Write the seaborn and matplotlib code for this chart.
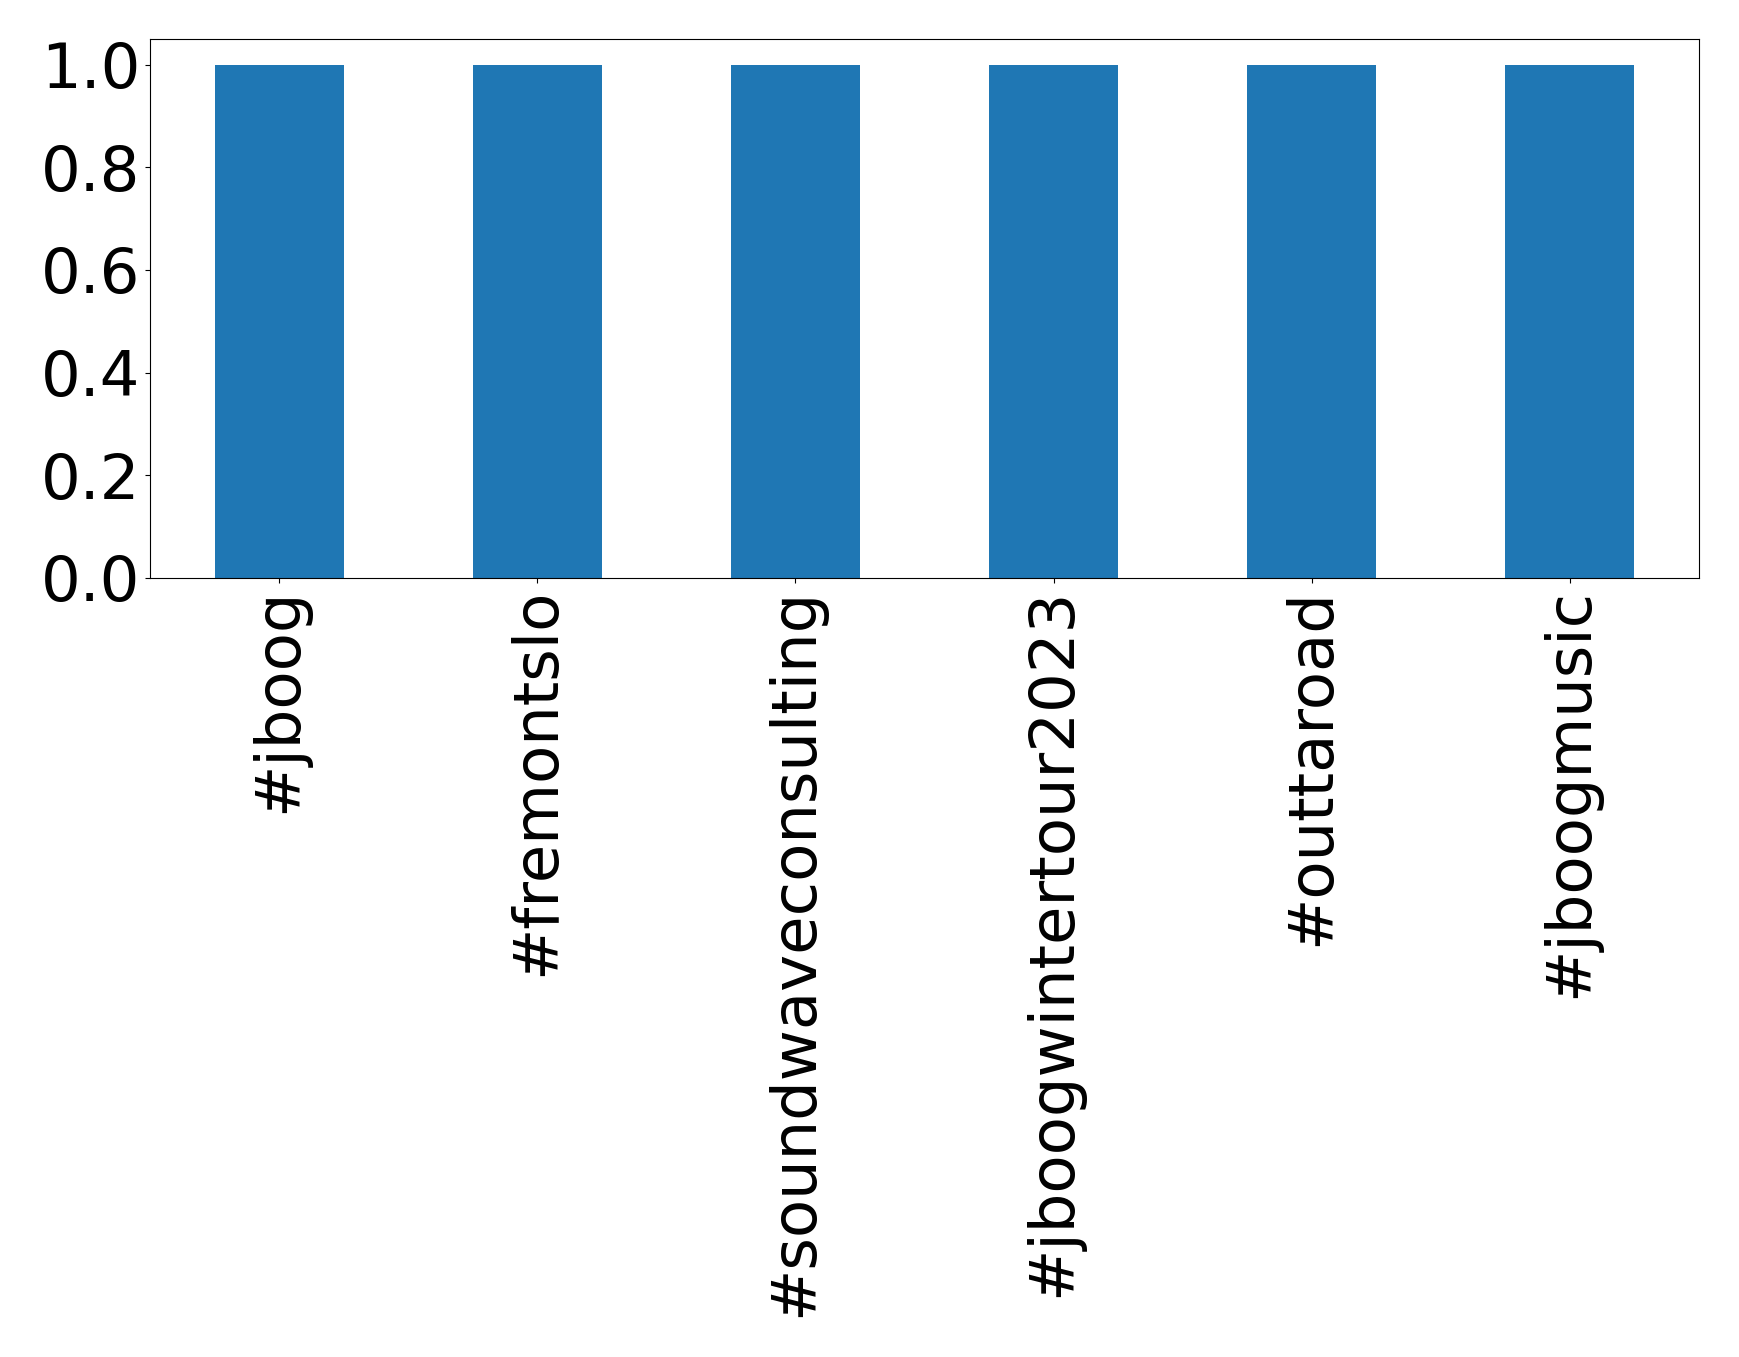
import matplotlib
matplotlib.use('Agg')
import matplotlib.pyplot as plt
from matplotlib.ticker import MultipleLocator
import seaborn as sns
import pandas as pd

# ---- Hashtag counts ----
hashtags = ['#jboog', '#fremontslo', '#soundwaveconsulting',
            '#jboogwintertour2023', '#outtaroad', '#jboogmusic']
counts = [1, 1, 1, 1, 1, 1]

df = pd.DataFrame({'hashtag': hashtags, 'count': counts})

fig = plt.figure(figsize=(17.39, 13.57), dpi=100)
ax = fig.add_axes([150 / 1739, 1 - 578 / 1357, (1699 - 150) / 1739, (578 - 39) / 1357])

sns.barplot(data=df, x='hashtag', y='count', color='#1f77b4', saturation=1,
            width=0.5, ax=ax)
ax.set_xlim(-0.5, len(hashtags) - 0.5)
ax.set_ylim(0, 1.05)
ax.yaxis.set_major_locator(MultipleLocator(0.2))
ax.set_xlabel('')
ax.set_ylabel('')
ax.tick_params(axis='both', labelsize=45)
ax.tick_params(axis='x', labelrotation=90)

plt.savefig('out.png', dpi=100)
plt.close()
